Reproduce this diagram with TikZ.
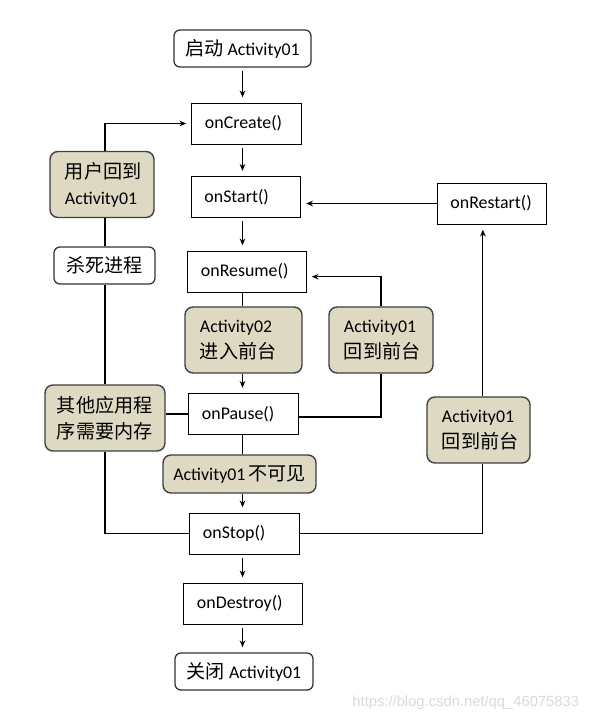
\documentclass[tikz,border=0pt]{standalone}
\usepackage{fontspec}
\setmainfont{Carlito}
\newfontfamily\cjk{Noto Sans CJK SC}[Scale=1.07]
\newfontfamily\wmfont{Liberation Sans}
\usetikzlibrary{arrows.meta}
\definecolor{eventgray}{RGB}{221,217,195}

\begin{document}
\begin{tikzpicture}[
			x=0.025cm, y=-0.025cm,
			>={Stealth[length=0.17cm,width=0.14cm]},
			font=\fontsize{12.7}{18.5}\selectfont,
			method/.style={draw, line width=0.7pt, text width=2.075cm, align=left, minimum height=1.025cm, inner xsep=0.325cm},
			event/.style={draw=black!75, fill=eventgray, line width=1pt, rounded corners=0.2cm, align=left, minimum height=1.65cm, inner xsep=0.375cm},
			term/.style={draw=black!80, line width=0.9pt, rounded corners=0.15cm, align=center, minimum height=0.925cm},
			link/.style={->, line width=0.75pt, shorten >=0.13cm},
			wire/.style={line width=0.75pt}
		]
		\useasboundingbox (0,0) rectangle (592,721);

		\node[term, minimum width=3.425cm] (launch) at (242.5,48.5) {{\cjk 启动} Activity01};
		\node[method] (create) at (246.5,123.5) {onCreate()};
		\node[method] (onstart) at (246,197) {onStart()};
		\node[method, text width=2.3cm] (resume) at (247,271.5) {onResume()};
		\node[event, text width=2.175cm] (act02) at (243.5,340) {Activity02\\{\cjk 进入前台}};
		\node[event, text width=1.85cm] (back01) at (381,340) {Activity01\\{\cjk 回到前台}};
		\node[method] (pause) at (243.5,414) {onPause()};
		\node[event, minimum width=3.825cm, minimum height=0.95cm, inner xsep=0.2cm, align=center] (invis) at (239.5,474) {Activity01\,{\cjk 不可见}};
		\node[method] (stop) at (244.5,533.5) {onStop()};
		\node[method, text width=2.3cm] (destroy) at (243,603.5) {onDestroy()};
		\node[term, minimum width=3.45cm] (close) at (244,671.5) {{\cjk 关闭} Activity01};

		\node[event, text width=1.85cm] (userback) at (102,184.5) {{\cjk 用户回到}\\Activity01};
		\node[term, minimum width=2.525cm] (kill) at (104.5,265.5) {\cjk 杀死进程};
		\node[event, text width=2.4cm, inner xsep=0.3cm] (othermem) at (105,418) {{\cjk 其他应用程}\\{\cjk 序需要内存}};

		\node[method] (restart) at (492,203.5) {onRestart()};
		\node[event, text width=1.825cm] (back01r) at (478.5,430) {Activity01\\{\cjk 回到前台}};

		\draw[link, shorten <=0.08cm] (launch) -- (launch |- create.north);
		\draw[link, shorten <=0.08cm] (launch |- create.south) -- (launch |- onstart.north);
		\draw[link, shorten <=0.08cm] (launch |- onstart.south) -- (launch |- resume.north);
		\draw[wire] (launch |- resume.south) -- (launch |- act02.north);
		\draw[link] (launch |- act02.south) -- (launch |- pause.north);
		\draw[wire] (launch |- pause.south) -- (launch |- invis.north);
		\draw[link] (launch |- invis.south) -- (launch |- stop.north);
		\draw[link, shorten <=0.08cm] (launch |- stop.south) -- (launch |- destroy.north);
		\draw[link, shorten <=0.08cm] (launch |- destroy.south) -- (launch |- close.north);

		\draw[wire] ([yshift=-0.075cm]pause.east) -| (back01.south);
		\draw[link] (back01.north) |- ([yshift=-0.13cm]resume.east);
		\draw[link] (restart) -- (restart -| onstart.east);
		\draw[wire] (stop.east) -| ([xshift=0.11cm]back01r.south);
		\draw[link] ([xshift=0.11cm]back01r.north) -- ([xshift=0.11cm]back01r |- restart.south);

		\draw[wire] (stop.west) -| (othermem.south);
		\draw[wire] (othermem.north) -- (othermem |- kill.south);
		\draw[wire] (othermem |- kill.north) -- (othermem |- userback.south);
		\draw[link] (othermem |- userback.north) |- (create.west);
		\draw[wire] (pause.west) -- (pause.west -| othermem.east);

		\node[anchor=east, text=black!15, font=\fontsize{10.5}{12}\selectfont\wmfont] (mark) at (584,703) {https://blog.csdn.net/qq\_46075833};

	\end{tikzpicture}
\end{document}
